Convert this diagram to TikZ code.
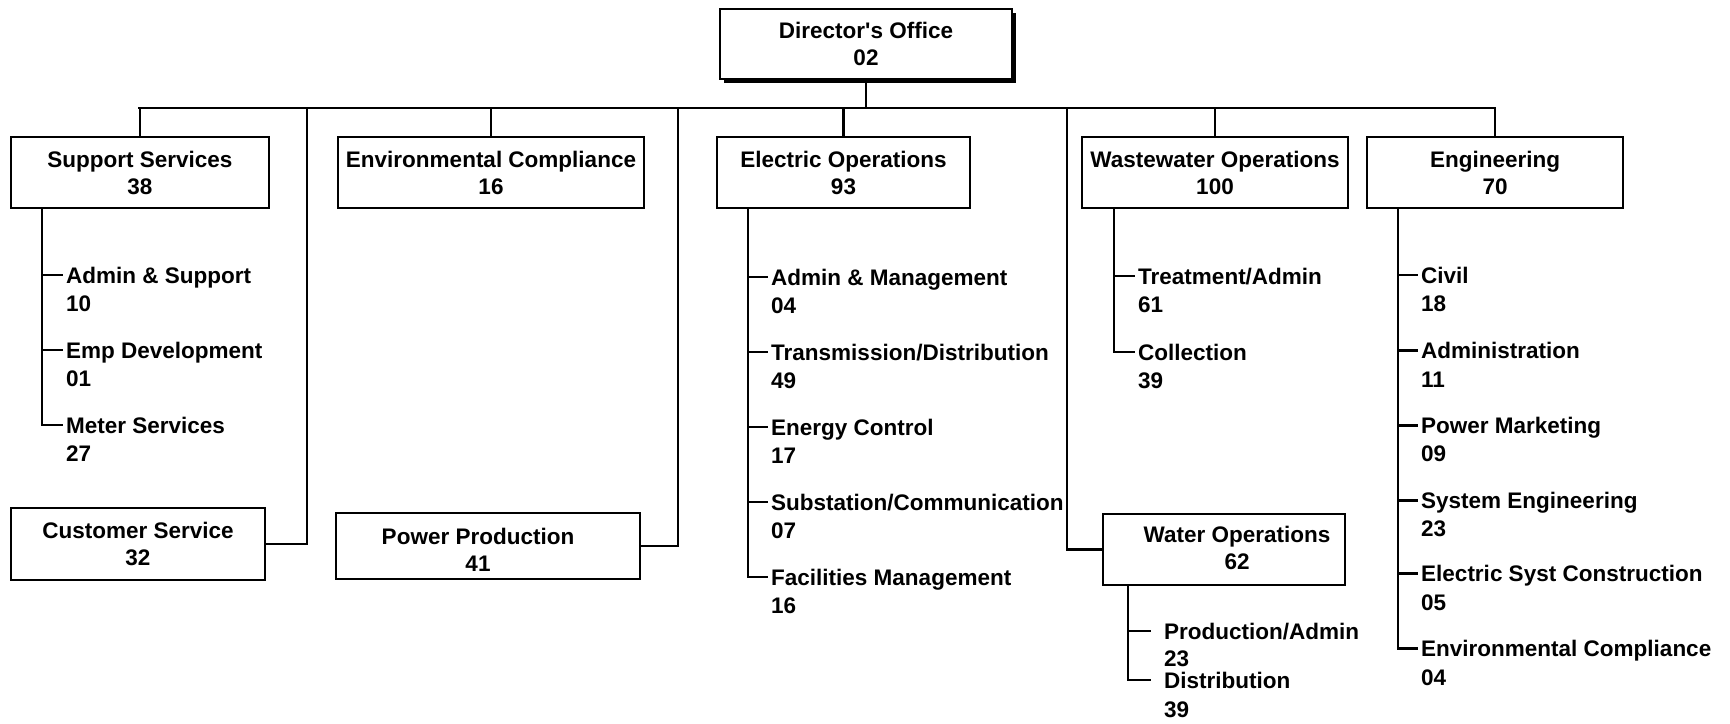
\documentclass[tikz,border=0pt]{standalone}
\usepackage{fontspec}
\setmainfont{Liberation Sans}
\usetikzlibrary{shadows}
\begin{document}
\begin{tikzpicture}[x=1bp,y=-1bp,
  every node/.style={font=\bfseries\fontsize{22.5bp}{27bp}\selectfont, inner sep=0pt},
  orgbox/.style={draw, line width=2.2bp, fill=white, align=center},
  conn/.style={line width=2.4bp, line cap=rect},
  item/.style={anchor=west, text height=16bp, text depth=0pt},
  num/.style={anchor=west, text height=16bp, text depth=0pt},
]
\useasboundingbox (0,0) rectangle (1730,724);

% top
\node[orgbox, minimum width=292bp, minimum height=70bp,
  drop shadow={shadow xshift=4bp, shadow yshift=-4bp, fill=black, opacity=1}]
  (dir) at (866,44) {Director\textquotesingle s Office\\02};

\coordinate (busL) at (139,108);
\coordinate (busR) at (1495,108);

% row boxes
\node[orgbox, minimum width=258bp, minimum height=71bp] (ss) at (140,172.5) {Support Services\\38};
\node[orgbox, minimum width=306bp, minimum height=71bp] (ec) at (491,172.5) {Environmental Compliance\\16};
\node[orgbox, minimum width=253bp, minimum height=71bp] (eo) at (843.5,172.5) {Electric Operations\\93};
\node[orgbox, minimum width=266bp, minimum height=71bp] (ww) at (1215,172.5) {Wastewater Operations\\100};
\node[orgbox, minimum width=256bp, minimum height=71bp] (en) at (1495,172.5) {Engineering\\70};

% lower boxes
\node[orgbox, minimum width=254bp, minimum height=72bp] (cs) at (138,544) {Customer Service\\32};
\node[orgbox, minimum width=304bp, minimum height=66bp] (pp) at (488,546) {};
\node[align=center] (ppt) at (478,550) {Power Production\\41};
\node[orgbox, minimum width=242bp, minimum height=71bp] (wo) at (1224,549.5) {};
\node[align=center] (wot) at (1237,547.5) {Water Operations\\62};

% bus and drops
\draw[conn] (busL) -- (busR);
\draw[conn] (dir.south) -- (dir.south |- busL);
\foreach \b in {ss,ec,eo,ww,en} { \draw[conn] (\b.north) -- (\b.north |- busL); }
\coordinate (j1) at (307,108);
\coordinate (j2) at (678,108);
\coordinate (j3) at (1067,108);
\draw[conn] (j1) |- (cs.east);
\draw[conn] (j2) |- (pp.east);
\draw[conn] (j3) |- (wo.west);

% Support Services items
\coordinate (sst) at (42,0);
\node[item] (ss1) at (66,275) {Admin \& Support};
\node[num]  (ss1n) at (66,303) {10};
\node[item] (ss2) at (66,350) {Emp Development};
\node[num]  (ss2n) at (66,378) {01};
\node[item] (ss3) at (66,425) {Meter Services};
\node[num]  (ss3n) at (66,453) {27};
\draw[conn, shorten >=4bp] (sst |- ss.south) |- (ss3.west);
\foreach \n in {ss1,ss2} { \draw[conn, shorten <=4bp] (\n.west) -- (\n.west -| sst); }

% Electric Operations items
\coordinate (eot) at (748,0);
\node[item] (eo1) at (771,277) {Admin \& Management};
\node[num]  (eo1n) at (771,305.5) {04};
\node[item] (eo2) at (771,352) {Transmission/Distribution};
\node[num]  (eo2n) at (771,380.5) {49};
\node[item] (eo3) at (771,427) {Energy Control};
\node[num]  (eo3n) at (771,455.5) {17};
\node[item] (eo4) at (771,502) {Substation/Communication};
\node[num]  (eo4n) at (771,530.5) {07};
\node[item] (eo5) at (771,577) {Facilities Management};
\node[num]  (eo5n) at (771,605.5) {16};
\draw[conn, shorten >=4bp] (eot |- eo.south) |- (eo5.west);
\foreach \n in {eo1,eo2,eo3,eo4} { \draw[conn, shorten <=4bp] (\n.west) -- (\n.west -| eot); }

% Wastewater items
\coordinate (wwt) at (1114,0);
\node[item] (ww1) at (1138,276) {Treatment/Admin};
\node[num]  (ww1n) at (1138,304) {61};
\node[item] (ww2) at (1138,352) {Collection};
\node[num]  (ww2n) at (1138,380) {39};
\draw[conn, shorten >=4bp] (wwt |- ww.south) |- (ww2.west);
\draw[conn, shorten <=4bp] (ww1.west) -- (ww1.west -| wwt);

% Engineering items
\coordinate (ent) at (1398,0);
\node[item] (en1) at (1421,275) {Civil};
\node[num]  (en1n) at (1421,303) {18};
\node[item] (en2) at (1421,350.5) {Administration};
\node[num]  (en2n) at (1421,379) {11};
\node[item] (en3) at (1421,425.5) {Power Marketing};
\node[num]  (en3n) at (1421,453.5) {09};
\node[item] (en4) at (1421,500.5) {System Engineering};
\node[num]  (en4n) at (1421,528) {23};
\node[item] (en5) at (1421,573.5) {Electric Syst Construction};
\node[num]  (en5n) at (1421,602) {05};
\node[item] (en6) at (1421,648.5) {Environmental Compliance};
\node[num]  (en6n) at (1421,677) {04};
\draw[conn, shorten >=4bp] (ent |- en.south) |- (en6.west);
\foreach \n in {en1,en2,en3,en4,en5} { \draw[conn, shorten <=4bp] (\n.west) -- (\n.west -| ent); }

% Water Operations items
\coordinate (wot0) at (1128,0);
\node[item] (wo1) at (1164,631) {Production/Admin};
\node[num]  (wo1n) at (1164,658) {23};
\node[item] (wo2) at (1164,680) {Distribution};
\node[num]  (wo2n) at (1164,709) {39};
\draw[conn, shorten >=14bp] (wot0 |- wo.south) |- (wo2.west);
\draw[conn, shorten <=14bp] (wo1.west) -- (wo1.west -| wot0);
\end{tikzpicture}
\end{document}
